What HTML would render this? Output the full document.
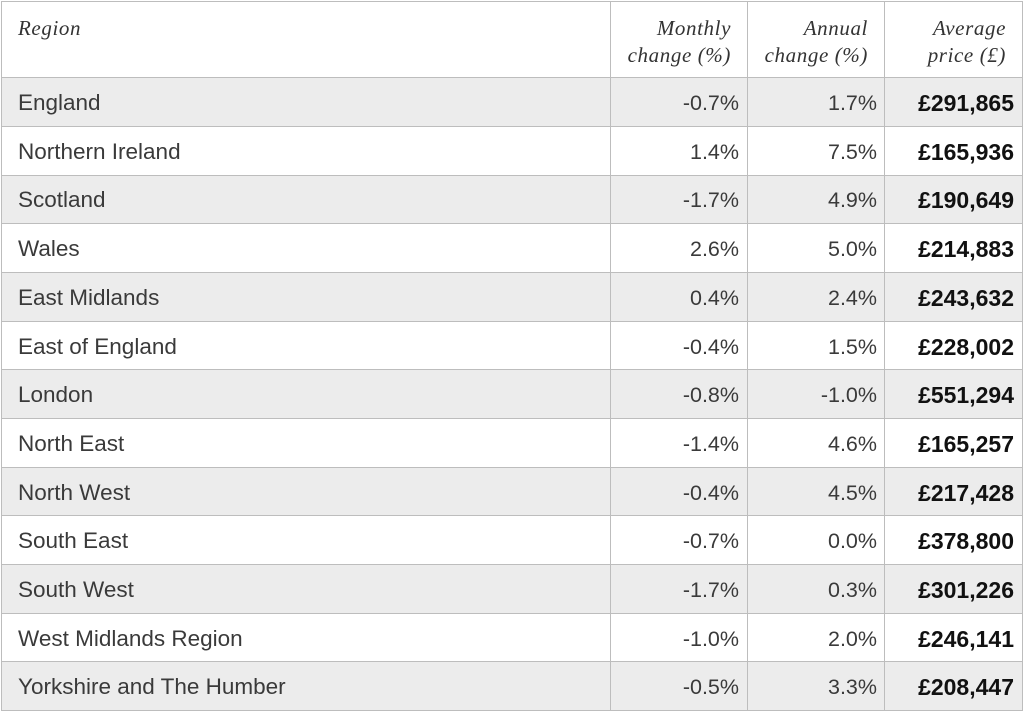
<!DOCTYPE html>
<html>
<head>
<meta charset="utf-8">
<style>
  html,body{margin:0;padding:0;background:#fff;}
  body{width:1024px;height:713px;position:relative;overflow:hidden;}
  .bg{position:absolute;left:1px;width:1022px;background:#ececec;}
  .h{position:absolute;left:1px;width:1022px;height:1px;background:#bdbdbd;}
  .v{position:absolute;top:1px;width:1px;height:710px;background:#bdbdbd;}
  .row{position:absolute;left:0;width:1024px;height:48.7px;line-height:48.7px;font-family:"Liberation Sans",sans-serif;font-size:22.5px;color:#3a3a3a;}
  .row span{position:absolute;white-space:nowrap;}
  .r{left:18px;}
  .m{right:285px;text-align:right;font-size:21.5px;}
  .a{right:147px;text-align:right;font-size:21.5px;}
  .p{right:10px;text-align:right;font-weight:bold;color:#111;font-size:23px;}
  .hd{position:absolute;top:15px;font-family:"Liberation Serif",serif;font-style:italic;font-size:21px;line-height:27px;color:#333;letter-spacing:0.6px;white-space:nowrap;}
</style>
</head>
<body>
<!-- shaded rows -->
<div class="bg" style="top:78px;height:48px"></div>
<div class="bg" style="top:175px;height:48px"></div>
<div class="bg" style="top:272px;height:49px"></div>
<div class="bg" style="top:369px;height:49px"></div>
<div class="bg" style="top:467px;height:48px"></div>
<div class="bg" style="top:564px;height:49px"></div>
<div class="bg" style="top:661px;height:49px"></div>

<!-- horizontal lines -->
<div class="h" style="top:1px"></div>
<div class="h" style="top:77px"></div>
<div class="h" style="top:126px"></div>
<div class="h" style="top:175px"></div>
<div class="h" style="top:223px"></div>
<div class="h" style="top:272px"></div>
<div class="h" style="top:321px"></div>
<div class="h" style="top:369px"></div>
<div class="h" style="top:418px"></div>
<div class="h" style="top:467px"></div>
<div class="h" style="top:515px"></div>
<div class="h" style="top:564px"></div>
<div class="h" style="top:613px"></div>
<div class="h" style="top:661px"></div>
<div class="h" style="top:710px"></div>

<!-- vertical lines -->
<div class="v" style="left:1px"></div>
<div class="v" style="left:610px"></div>
<div class="v" style="left:747px"></div>
<div class="v" style="left:884px"></div>
<div class="v" style="left:1022px"></div>

<!-- header -->
<div class="hd" style="left:18px">Region</div>
<div class="hd" style="right:293px;text-align:right">Monthly<br>change (%)</div>
<div class="hd" style="right:156px;text-align:right">Annual<br>change (%)</div>
<div class="hd" style="right:18px;text-align:right">Average<br>price (£)</div>

<!-- rows -->
<div class="row" style="top:79px"><span class="r">England</span><span class="m">-0.7%</span><span class="a">1.7%</span><span class="p">£291,865</span></div>
<div class="row" style="top:127.7px"><span class="r">Northern Ireland</span><span class="m">1.4%</span><span class="a">7.5%</span><span class="p">£165,936</span></div>
<div class="row" style="top:176.4px"><span class="r">Scotland</span><span class="m">-1.7%</span><span class="a">4.9%</span><span class="p">£190,649</span></div>
<div class="row" style="top:225.1px"><span class="r">Wales</span><span class="m">2.6%</span><span class="a">5.0%</span><span class="p">£214,883</span></div>
<div class="row" style="top:273.8px"><span class="r">East Midlands</span><span class="m">0.4%</span><span class="a">2.4%</span><span class="p">£243,632</span></div>
<div class="row" style="top:322.5px"><span class="r">East of England</span><span class="m">-0.4%</span><span class="a">1.5%</span><span class="p">£228,002</span></div>
<div class="row" style="top:371.2px"><span class="r">London</span><span class="m">-0.8%</span><span class="a">-1.0%</span><span class="p">£551,294</span></div>
<div class="row" style="top:419.9px"><span class="r">North East</span><span class="m">-1.4%</span><span class="a">4.6%</span><span class="p">£165,257</span></div>
<div class="row" style="top:468.6px"><span class="r">North West</span><span class="m">-0.4%</span><span class="a">4.5%</span><span class="p">£217,428</span></div>
<div class="row" style="top:517.3px"><span class="r">South East</span><span class="m">-0.7%</span><span class="a">0.0%</span><span class="p">£378,800</span></div>
<div class="row" style="top:566px"><span class="r">South West</span><span class="m">-1.7%</span><span class="a">0.3%</span><span class="p">£301,226</span></div>
<div class="row" style="top:614.7px"><span class="r">West Midlands Region</span><span class="m">-1.0%</span><span class="a">2.0%</span><span class="p">£246,141</span></div>
<div class="row" style="top:663.4px"><span class="r">Yorkshire and The Humber</span><span class="m">-0.5%</span><span class="a">3.3%</span><span class="p">£208,447</span></div>
</body>
</html>
